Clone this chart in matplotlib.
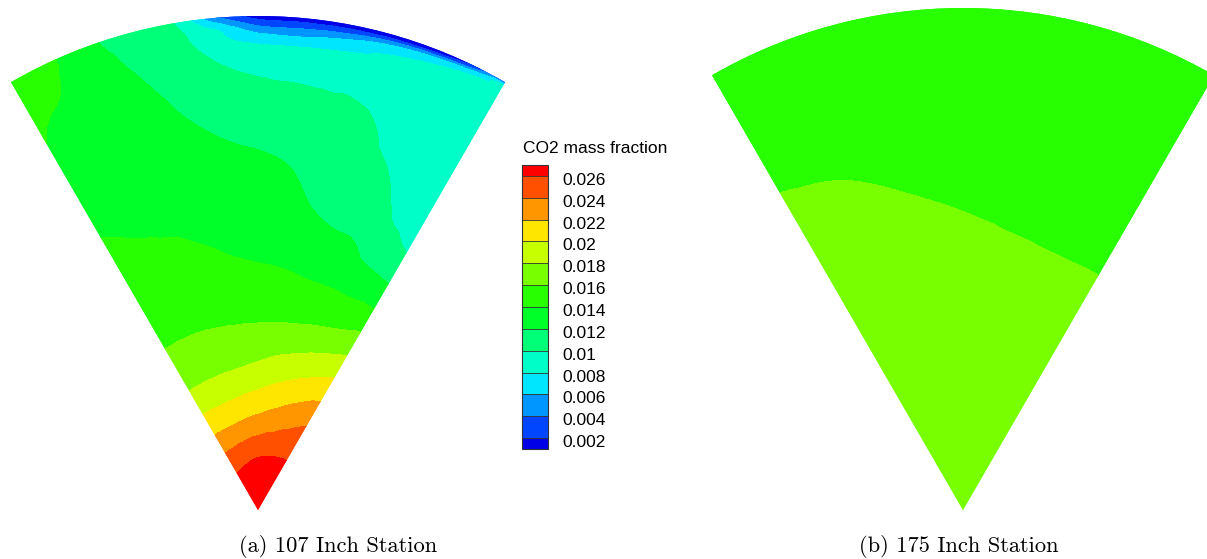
import numpy as np
import matplotlib
matplotlib.use("Agg")
import matplotlib.pyplot as plt
import matplotlib.tri as mtri
from matplotlib.colors import ListedColormap, BoundaryNorm
from matplotlib.transforms import ScaledTranslation

# contour levels of the CO2 mass fraction legend
LEVELS = [0.002, 0.004, 0.006, 0.008, 0.010, 0.012, 0.014,
          0.016, 0.018, 0.020, 0.022, 0.024, 0.026]
LEVEL_LABELS = ["0.002", "0.004", "0.006", "0.008", "0.01", "0.012", "0.014",
                "0.016", "0.018", "0.02", "0.022", "0.024", "0.026"]

# flood colours, low -> high (under, 12 bands, over)
COLOR_UNDER = "#0000E6"
BAND_COLORS = ["#0046FF", "#0096FF", "#00E6FF", "#00FFC8", "#00FF78", "#00FF28",
               "#28FF00", "#78FF00", "#C8FF00", "#FFE600", "#FF9600", "#FF5000"]
COLOR_OVER = "#FF0000"

# 107 inch station: sample angles (deg from centre line) and radii (fraction of sector radius)
THETA_107 = [-30, -25, -20, -15, -10, -5, 0, 5, 10, 15, 20, 25, 30]
R_107 = [0.0, 0.1, 0.2, 0.3, 0.4, 0.5, 0.6, 0.7, 0.8, 0.9,
         0.94, 0.96, 0.975, 0.985, 0.993, 1.0]
# one row per angle, apex -> outer wall
CO2_107 = [
    [.029, .0254, .0209, .01736, .0157, .01494, .01419, .0138, .0139,
     .0141, .0142, .01425, .0143, .0143, .0143, .0143],
    [.029, .02552, .02093, .01741, .01571, .01488, .01404, .0137, .0136,
     .01375, .01397, .01405, .0141, .0142, .0142, .0142],
    [.029, .02564, .02095, .01747, .01571, .01476, .0139, .0135, .0132,
     .0128, .0126, .0125, .0124, .01235, .0123, .0123],
    [.029, .02577, .02109, .01754, .01568, .0146, .01374, .01316, .01258,
     .0120, .0117, .0116, .0115, .01145, .0114, .0113],
    [.029, .02595, .02126, .01761, .01563, .01438, .01348, .01274, .0120,
     .0112, .0108, .0106, .0105, .0104, .0102, .0101],
    [.029, .0261, .02149, .01777, .01557, .01414, .01328, .01248, .01147,
     .01013, .00908, .00846, .0080, .0067, .0054, .0042],
    [.029, .02623, .02171, .0180, .01555, .0140, .01315, .0123, .01113,
     .0095, .00817, .00657, .0047, .00323, .0020, .0012],
    [.029, .0263, .0220, .01833, .01555, .0139, .01295, .0120, .01089,
     .00934, .00803, .0061, .00435, .00283, .0017, .0008],
    [.029, .02635, .0223, .01865, .01555, .0137, .01222, .01135, .01059,
     .00932, .00815, .0068, .0050, .0030, .0017, .0008],
    [.029, .02638, .02268, .0190, .01565, .01352, .01186, .01116, .01046,
     .0092, .0084, .00775, .0063, .0040, .0017, .0010],
    [.029, .0264, .02306, .01938, .0158, .01337, .01162, .01054, .00954,
     .0089, .0086, .0083, .0072, .0052, .0018, .0008],
    [.029, .02642, .02349, .01983, .01608, .01313, .01053, .00956, .0091,
     .0088, .0086, .0084, .0082, .0068, .0035, .0012],
    [.029, .0264, .02386, .02029, .01653, .0129, .0100, .00949, .0091,
     .0088, .0087, .0086, .0085, .0083, .0078, .0030],
]

# 175 inch station
THETA_175 = [-30, -20, -10, 0, 10, 20, 30]
R_175 = [0.0, 0.3, 0.5, 0.6, 0.7, 0.8, 1.0]
CO2_175 = [
    [.0172, .0172, .0171, .01665, .01615, .01565, .0150],
    [.0172, .0172, .01699, .01649, .01599, .01549, .0150],
    [.0172, .0172, .0167, .0162, .0157, .0152, .0150],
    [.0172, .0171, .01647, .01597, .01547, .0150, .0150],
    [.0172, .0170, .01629, .01579, .0153, .0150, .0150],
    [.0172, .0170, .0162, .0157, .0152, .0150, .0150],
    [.0172, .0170, .01619, .01569, .0152, .0150, .0150],
]

cmap = ListedColormap(BAND_COLORS)
cmap.set_under(COLOR_UNDER)
cmap.set_over(COLOR_OVER)
norm = BoundaryNorm(LEVELS, cmap.N)


def draw_sector(ax, theta_deg, radii, values):
    th, rr = np.meshgrid(np.radians(theta_deg), radii, indexing="ij")
    z = np.asarray(values).ravel()
    tri = mtri.Triangulation(th.ravel(), rr.ravel())
    interp = mtri.CubicTriInterpolator(tri, z, kind="geom")
    refiner = mtri.UniformTriRefiner(tri)
    tri_f, z_f = refiner.refine_field(z, triinterpolator=interp, subdiv=4)
    cs = ax.tricontourf(tri_f, z_f, levels=LEVELS, cmap=cmap, norm=norm, extend="both")
    cs.set_edgecolor("face")
    cs.set_linewidth(0.3)
    ax.set_theta_zero_location("N")
    ax.set_theta_direction(-1)
    ax.set_thetamin(min(theta_deg))
    ax.set_thetamax(max(theta_deg))
    ax.set_rlim(0, max(radii))
    ax.axis("off")
    return cs


W, H = 1207, 559
fig = plt.figure(figsize=(W / 100, H / 100), dpi=100)
fig.patch.set_facecolor("white")

ax_a = fig.add_axes([11 / W, 49 / H, 494 / W, 494 / H], projection="polar")
cs_a = draw_sector(ax_a, THETA_107, R_107, CO2_107)

ax_b = fig.add_axes([712 / W, 49 / H, 502 / W, 502 / H], projection="polar")
draw_sector(ax_b, THETA_175, R_175, CO2_175)

# legend
cax = fig.add_axes([522 / W, 110 / H, 26 / W, 284 / H])
cbar = fig.colorbar(cs_a, cax=cax, ticks=LEVELS, extend="both", extendrect=True,
                    extendfrac=1 / 24, drawedges=True)
cbar.ax.set_yticklabels(LEVEL_LABELS, family="Liberation Sans", fontsize=12.5)
cbar.ax.tick_params(length=0, pad=10)
shift = ScaledTranslation(0, -3 / 100, fig.dpi_scale_trans)
for lab in cbar.ax.get_yticklabels():
    lab.set_transform(lab.get_transform() + shift)
cbar.outline.set_edgecolor("#333333")
cbar.outline.set_linewidth(0.8)
cbar.dividers.set_color("#333333")
cbar.dividers.set_linewidth(0.6)
fig.text(523 / W, (H - 153) / H, "CO2 mass fraction", ha="left", va="baseline",
         family="Liberation Sans", fontsize=12.5)

# sub-figure captions
fig.text(338 / W, 7 / H, "(a) 107 Inch Station", ha="center", va="baseline",
         family="cmr10", fontsize=16.2)
fig.text(959 / W, 7 / H, "(b) 175 Inch Station", ha="center", va="baseline",
         family="cmr10", fontsize=16.2)

fig.savefig("out.png", dpi=100, facecolor="white")
